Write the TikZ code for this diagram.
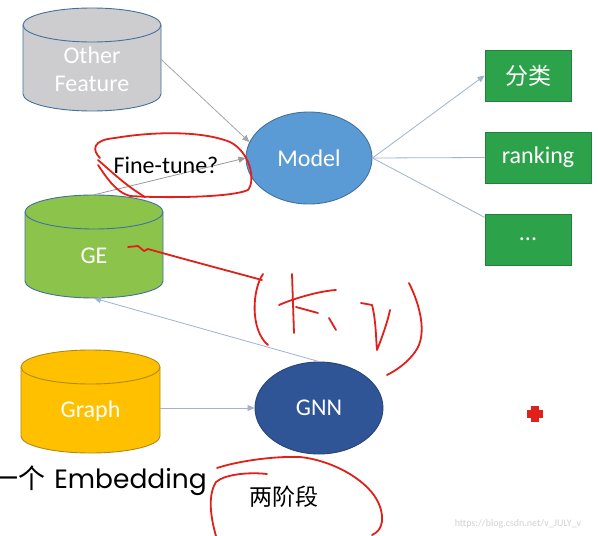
\documentclass[tikz,border=0pt]{standalone}
\usepackage{fontspec}
\setmainfont{Carlito}
\newfontfamily\cjk{Noto Sans CJK SC}
\newfontfamily\embfont{Poppins}
\usetikzlibrary{arrows.meta,shapes.geometric}
\definecolor{cylline}{HTML}{41719C}
\definecolor{ofgray}{HTML}{CDCDD0}
\definecolor{gegreen}{HTML}{8CC34B}
\definecolor{graphgold}{HTML}{FFC000}
\definecolor{graphline}{HTML}{B08A10}
\definecolor{modelblue}{HTML}{5B9BD5}
\definecolor{gnnblue}{HTML}{2F5597}
\definecolor{boxgreen}{HTML}{2CA24A}
\definecolor{boxline}{HTML}{23803A}
\definecolor{conn}{HTML}{9FB3CC}
\definecolor{penred}{HTML}{E0201A}
\newcommand\mycyl[7]{% name, cx, top, bottom, halfwidth, fill, line
  \fill[#6] (#2-#5,#3+17) -- (#2-#5,#4-17)
    arc[start angle=180,end angle=0,x radius=#5,y radius=17] -- (#2+#5,#3+17) -- cycle;
  \draw[#7,line width=0.9pt] (#2-#5,#3+17) -- (#2-#5,#4-17)
    arc[start angle=180,end angle=0,x radius=#5,y radius=17] -- (#2+#5,#3+17);
  \draw[#7,line width=0.9pt,fill=#6] (#2,#3+17) ellipse[x radius=#5,y radius=17];
  \node[inner sep=0pt,minimum width=2*#5,minimum height=#4-#3] (#1) at (#2,{(#3+#4)/2}) {};
}
\tikzset{
  cyltext/.style={text=white,font=\fontsize{24}{28}\selectfont,align=center},
  ell/.style={ellipse,draw=cylline,line width=0.9pt,text=white,font=\fontsize{24}{28}\selectfont,inner sep=0pt},
  outbox/.style={rectangle,fill=boxgreen,draw=boxline,line width=0.8pt,text=white,inner sep=0pt},
  conline/.style={draw=conn,line width=0.8pt},
  conarrow/.style={conline,-{Triangle[length=7pt,width=6pt]}},
  hand/.style={draw=penred,line width=1.8pt,line cap=round,line join=round},
}
\begin{document}
\begin{tikzpicture}[x=1pt,y=-1pt]
\useasboundingbox[fill=white] (0,0) rectangle (598,536);
% cylinders
\mycyl{of}{92}{8}{111}{69}{ofgray}{cylline}
\node[cyltext] at (92,69) {Other\\Feature};
\mycyl{ge}{94}{195}{298}{69}{gegreen}{cylline}
\node[cyltext] at (94,256) {GE};
\mycyl{graph}{90.5}{350}{453}{69.5}{graphgold}{graphline}
\node[cyltext] at (90.5,411) {Graph};
% ellipses
\node[ell,fill=modelblue,minimum width=126pt,minimum height=92pt] (model) at (309,158) {Model};
\node[ell,fill=gnnblue,draw=gnnblue!80!black,minimum width=128pt,minimum height=92pt] (gnn) at (319,408) {GNN};
% boxes
\node[outbox,minimum width=86pt,minimum height=51pt,font=\cjk\fontsize{23}{26}\selectfont] (b1) at (528,75.5) {分类};
\node[outbox,minimum width=106pt,minimum height=51pt,font=\fontsize{24}{26}\selectfont] (b2) at (538,157.5) {ranking};
\node[outbox,minimum width=86pt,minimum height=51pt,font=\fontsize{24}{26}\selectfont] (b3) at (528,239.5) {...};
% connectors
\draw[conarrow,draw=gray!70] (of.east) -- (model.165);
\draw[conarrow,draw=gray!80] (ge.north) -- (model.west);
\draw[conarrow] (model.east) -- (b1.west);
\draw[conline] (model.east) -- (b2.west);
\draw[conline] (model.east) -- (b3.153);
\draw[conarrow] (gnn.north) -- (ge.south);
\draw[conarrow] (graph.east |- gnn.west) -- (gnn.west);
% texts
\node[font=\fontsize{24}{28}\selectfont] (ft) at (166,165) {Fine-tune?};
\node[font=\cjk\fontsize{23}{26}\selectfont] (ljd) at (284,497) {两阶段};
\node[anchor=east,inner sep=0pt] (emb) at (207,481) {{\cjk\fontsize{27}{30}\selectfont 一个}\hspace{9pt}{\embfont\fontsize{26.5}{30}\selectfont Embedding}};
\node[text=gray!35,font=\fontsize{10}{12}\selectfont] (wm) at (518,524) {https://blog.csdn.net/v\_JULY\_v};
% red handwriting
\draw[hand] (100,158) .. controls (92,150) and (92,140) .. (115,138)
  .. controls (150,132) and (200,130) .. (230,142)
  .. controls (250,152) and (256,180) .. (248,190)
  .. controls (230,198) and (160,198) .. (130,196)
  .. controls (115,192) and (105,175) .. (98,165);
\draw[hand] (98,160) .. controls (112,172) and (125,185) .. (145,197);
\draw[hand] (128,247) -- (138,246) -- (144,251) -- (148,249)
  .. controls (180,258) and (225,270) .. (262,280);
\draw[hand] (263,274) .. controls (252,290) and (250,330) .. (268,345);
\draw[hand] (292,274) -- (294,333);
\draw[hand] (279,305) .. controls (295,298) and (320,291) .. (336,290);
\draw[hand] (296,307) -- (318,313);
\draw[hand] (329,318) -- (336,330);
\draw[hand] (361,303) -- (372,305) .. controls (376,320) and (376,340) .. (377,350)
  .. controls (383,335) and (388,320) .. (390,310);
\draw[hand] (409,283) .. controls (420,305) and (428,335) .. (415,352)
  .. controls (408,362) and (397,370) .. (387,375);
\draw[hand] (267,474) .. controls (250,472) and (225,474) .. (216,482)
  .. controls (208,495) and (210,515) .. (216,536);
\draw[hand] (217,468) .. controls (235,462) and (270,456) .. (300,457)
  .. controls (330,460) and (365,478) .. (377,500)
  .. controls (385,515) and (384,530) .. (372,535);
% red plus
\fill[penred] (531,406) rectangle (539,422);
\fill[penred] (527,410) rectangle (543,418);
\end{tikzpicture}
\end{document}
